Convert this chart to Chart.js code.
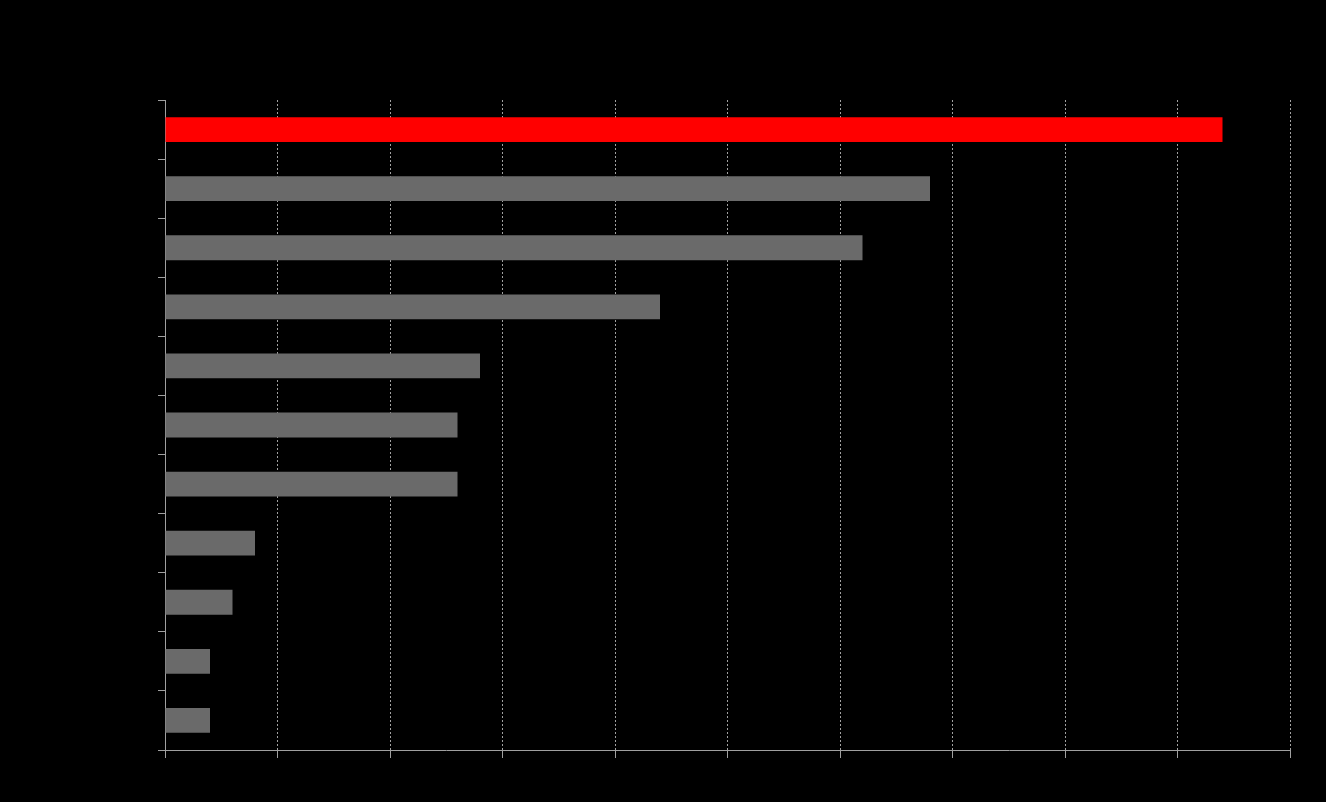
<!DOCTYPE html>
<html>
<head>
<meta charset="utf-8">
<title>Bar chart</title>
<script src="https://cdn.jsdelivr.net/npm/chart.js@4/dist/chart.umd.min.js"></script>
<style>
  html, body { margin: 0; padding: 0; background: #000; }
  #wrap { width: 1326px; height: 802px; }
</style>
</head>
<body>
<div id="wrap"><canvas id="barChart" width="1326" height="802"></canvas></div>
<script>
// values (category text is not visible in the reference)
const categories = ['1', '2', '3', '4', '5', '6', '7', '8', '9', '10', '11'];
const values = [94, 68, 62, 44, 28, 26, 26, 8, 6, 4, 4];
const xTicks = [0, 10, 20, 30, 40, 50, 60, 70, 80, 90, 100];

const HIGHLIGHT = '#ff0000';
const BAR_GREY = '#6a6a6a';
const AXIS_GREY = '#a0a0a0';

const ctx = document.getElementById('barChart').getContext('2d');
new Chart(ctx, {
    type: 'bar',
    data: {
        labels: categories,
        datasets: [{
            data: values,
            backgroundColor: ctx => ctx.dataIndex === 0 ? HIGHLIGHT : BAR_GREY,
            borderWidth: 0,
            barPercentage: 0.42,
            categoryPercentage: 1
        }]
    },
    options: {
        indexAxis: 'y',
        responsive: false,
        animation: false,
        devicePixelRatio: 1,
        layout: { padding: { left: 158, top: 100, right: 36, bottom: 44 } },
        plugins: { legend: { display: false }, tooltip: { enabled: false } },
        scales: {
            x: {
                min: xTicks[0],
                max: xTicks[xTicks.length - 1],
                afterBuildTicks: axis => { axis.ticks = xTicks.map(v => ({ value: v })); },
                ticks: { display: false },
                grid: {
                    color: AXIS_GREY,
                    lineWidth: 1,
                    drawTicks: true,
                    tickLength: 8,
                    tickColor: AXIS_GREY,
                    tickBorderDash: []
                },
                border: { display: true, color: AXIS_GREY, width: 1, dash: [2, 2] }
            },
            y: {
                ticks: { display: false },
                grid: {
                    offset: true,
                    drawOnChartArea: false,
                    drawTicks: true,
                    tickLength: 7,
                    tickColor: AXIS_GREY,
                    color: AXIS_GREY
                },
                border: { display: true, color: AXIS_GREY, width: 1 }
            }
        }
    }
});
</script>
</body>
</html>
